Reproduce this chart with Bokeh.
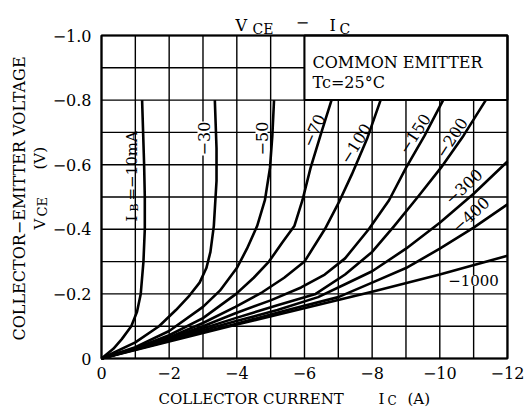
import math
from bokeh.plotting import figure
from bokeh.models import Range1d, FixedTicker, Label
from bokeh.embed import file_html
from bokeh.resources import INLINE

# ---------------- data (IC in A, VCE in V) ----------------
ib_names = ["-10", "-30", "-50", "-70", "-100", "-150", "-200", "-300", "-400", "-1000"]

ic_10 = [0, -0.35, -0.6, -0.88, -1.05, -1.16, -1.24, -1.28, -1.28, -1.26, -1.23, -1.2]
vce_10 = [0, -0.03, -0.06, -0.10, -0.145, -0.2, -0.3, -0.4, -0.5, -0.6, -0.7, -0.8]

ic_30 = [0, -1.0, -1.7, -2.2, -2.6, -2.9, -3.1, -3.22, -3.32, -3.4, -3.4, -3.35]
vce_30 = [0, -0.05, -0.1, -0.15, -0.195, -0.235, -0.28, -0.33, -0.41, -0.55, -0.65, -0.8]

ic_50 = [0, -1, -2, -3, -3.5, -4.0, -4.3, -4.6, -4.83, -4.98, -5.05, -5.1]
vce_50 = [0, -0.035, -0.085, -0.16, -0.21, -0.28, -0.34, -0.41, -0.49, -0.59, -0.69, -0.8]

ic_70 = [0, -1, -2, -3, -3.98, -4.5, -4.95, -5.35, -5.7, -5.94, -6.18, -6.5, -6.8]
vce_70 = [0, -0.032, -0.072, -0.125, -0.2, -0.25, -0.3, -0.36, -0.41, -0.49, -0.59, -0.7, -0.8]

ic_100 = [0, -1, -2, -3, -3.96, -4.75, -5.4, -6.0, -6.6, -7.0, -7.4, -7.85, -8.25]
vce_100 = [0, -0.03, -0.065, -0.11, -0.16, -0.205, -0.25, -0.3, -0.4, -0.48, -0.57, -0.68, -0.8]

ic_150 = [0, -1, -2, -3, -3.96, -5.0, -5.9, -6.6, -7.2, -7.9, -8.5, -9.0, -9.55, -10.1]
vce_150 = [0, -0.03, -0.062, -0.1, -0.14, -0.18, -0.22, -0.26, -0.31, -0.4, -0.49, -0.59, -0.69, -0.8]

ic_200 = [0, -2, -3.96, -5.2, -6.33, -7.2, -8.0, -8.65, -9.35, -10.03, -10.7, -11.36]
vce_200 = [0, -0.06, -0.125, -0.165, -0.2, -0.26, -0.33, -0.41, -0.5, -0.59, -0.69, -0.8]

ic_300 = [0, -2, -3.96, -5.2, -6.4, -7.2, -8.0, -9.0, -10.0, -11.0, -12.0]
vce_300 = [0, -0.058, -0.115, -0.15, -0.19, -0.23, -0.27, -0.34, -0.42, -0.51, -0.61]

ic_400 = [0, -2, -3.96, -5.5, -7.0, -8.0, -9.0, -10.0, -11.0, -12.0]
vce_400 = [0, -0.055, -0.107, -0.15, -0.19, -0.235, -0.28, -0.34, -0.405, -0.477]

ic_1000 = [0, -4, -8, -10, -12]
vce_1000 = [0, -0.105, -0.207, -0.26, -0.318]

x_ticks = [0, -2, -4, -6, -8, -10, -12]
x_tick_labels = ["0", "\u22122", "\u22124", "\u22126", "\u22128", "\u221210", "\u221212"]
y_ticks = [0, -0.2, -0.4, -0.6, -0.8, -1.0]
y_tick_labels = ["0", "\u22120.2", "\u22120.4", "\u22120.6", "\u22120.8", "\u22121.0"]
x_minor = [-1, -3, -5, -7, -9, -11]
y_minor = [-0.1, -0.3, -0.5, -0.7, -0.9]

curves = [(ic_10, vce_10), (ic_30, vce_30), (ic_50, vce_50), (ic_70, vce_70),
          (ic_100, vce_100), (ic_150, vce_150), (ic_200, vce_200),
          (ic_300, vce_300), (ic_400, vce_400), (ic_1000, vce_1000)]

FONT = "DejaVu Serif"

# ---------------- geometry: whole canvas is the frame ----------------
W, H = 525, 409
X0, XS = 101.0, 33.83   # pixel of IC=0, pixels per A
Y0, YS = 358.0, 323.0   # pixel of VCE=0, pixels per V

def dx(px):
    return -(px - X0) / XS

def dy(py):
    return -(Y0 - py) / YS

p = figure(width=W, height=H, output_backend="svg", toolbar_location=None,
           x_range=Range1d(dx(0), dx(W)), y_range=Range1d(dy(H), dy(0)),
           min_border_left=0, min_border_right=0,
           min_border_top=0, min_border_bottom=0)
p.background_fill_color = "white"
p.border_fill_color = "white"
p.outline_line_color = None
p.xgrid.visible = False
p.ygrid.visible = False

for ax, ticks, labels in ((p.xaxis[0], x_ticks, x_tick_labels),
                          (p.yaxis[0], y_ticks, y_tick_labels)):
    ax.fixed_location = 0
    ax.ticker = FixedTicker(ticks=ticks, minor_ticks=[])
    ax.major_label_overrides = {t: l for t, l in zip(ticks, labels)}
    ax.axis_line_color = None
    ax.major_tick_line_color = None
    ax.minor_tick_line_color = None
    ax.major_label_text_font = FONT
    ax.major_label_text_font_size = "16px"
    ax.major_label_text_color = "black"
p.xaxis[0].major_label_standoff = 2
p.yaxis[0].major_label_standoff = 4

x_lo, x_hi = x_ticks[0], x_ticks[-1]
y_lo, y_hi = y_ticks[0], y_ticks[-1]
grid_x = sorted(x_ticks + x_minor)
grid_y = sorted(y_ticks + y_minor)

# grid lines (every 1 A and every 0.1 V)
p.segment(x0=grid_x, x1=grid_x, y0=[y_lo] * len(grid_x), y1=[y_hi] * len(grid_x),
          line_color="black", line_width=1.4)
p.segment(x0=[x_lo] * len(grid_y), x1=[x_hi] * len(grid_y), y0=grid_y, y1=grid_y,
          line_color="black", line_width=1.4)

# conditions box
p.quad(left=[x_ticks[3]], right=[x_hi], bottom=[y_ticks[-2]], top=[y_hi],
       fill_color="white", line_color="black", line_width=2)

# outer frame
p.quad(left=[x_lo], right=[x_hi], bottom=[y_lo], top=[y_hi],
       fill_color=None, line_color="black", line_width=2.2)

for ic, vce in curves:
    p.line(ic, vce, line_color="black", line_width=2.6, line_join="round")

def lab(text, px, py, size=16, angle=0.0, align="center", baseline="middle", bg=None):
    l = Label(x=dx(px), y=dy(py), text=text, text_font=FONT,
              text_font_size=f"{size}px", text_color="black",
              text_align=align, text_baseline=baseline,
              angle=math.radians(angle))
    if bg:
        l.background_fill_color = bg
    p.add_layout(l)

# title  V_CE - I_C
lab("V", 235, 25, 16, align="left", baseline="alphabetic")
lab("CE", 252, 28, 14, align="left", baseline="alphabetic")
lab("\u2212", 302, 21, 16)
lab("I", 329, 25, 16, align="left", baseline="alphabetic")
lab("C", 339, 28, 14, align="left", baseline="alphabetic")

# conditions text
lab("COMMON EMITTER", 312, 62, 16, align="left")
lab("Tc=25\u00b0C", 312, 82, 16, align="left")

# y axis title (two rotated lines)
lab("COLLECTOR\u2212EMITTER VOLTAGE", 19, 198, 16, angle=90)
lab("V", 39, 229, 15, angle=90, align="left", baseline="alphabetic")
lab("CE", 42, 216, 13, angle=90, align="left", baseline="alphabetic")
lab("(V)", 39, 169, 15, angle=90, align="left", baseline="alphabetic")

# x axis title
lab("COLLECTOR CURRENT", 158, 398, 15, align="left", baseline="alphabetic")
lab("I", 378, 398, 15, align="left", baseline="alphabetic")
lab("C", 387, 400, 12, align="left", baseline="alphabetic")
lab("(A)", 407, 398, 15, align="left", baseline="alphabetic")

# curve labels (base current, mA)
lab("I", 131, 221, 15, angle=90, align="left", baseline="alphabetic")
lab("B", 134, 211, 11, angle=90, align="left", baseline="alphabetic")
lab("=\u221210mA", 131, 200, 15, angle=90, align="left", baseline="alphabetic")
lab("\u221230", 203, 138, 16, angle=90, bg="white")
lab("\u221250", 261, 138, 16, angle=90, bg="white")
lab("\u221270", 313, 130, 16, angle=66)
lab("\u2212100", 355, 143, 16, angle=58)
lab("\u2212150", 414, 133, 16, angle=57)
lab("\u2212200", 451, 137, 16, angle=57)
lab("\u2212300", 463, 186, 16, angle=42)
lab("\u2212400", 470, 214, 16, angle=42)
lab("\u22121000", 473, 280, 15, bg="white")

open("out.html", "w").write(file_html(p, INLINE))
